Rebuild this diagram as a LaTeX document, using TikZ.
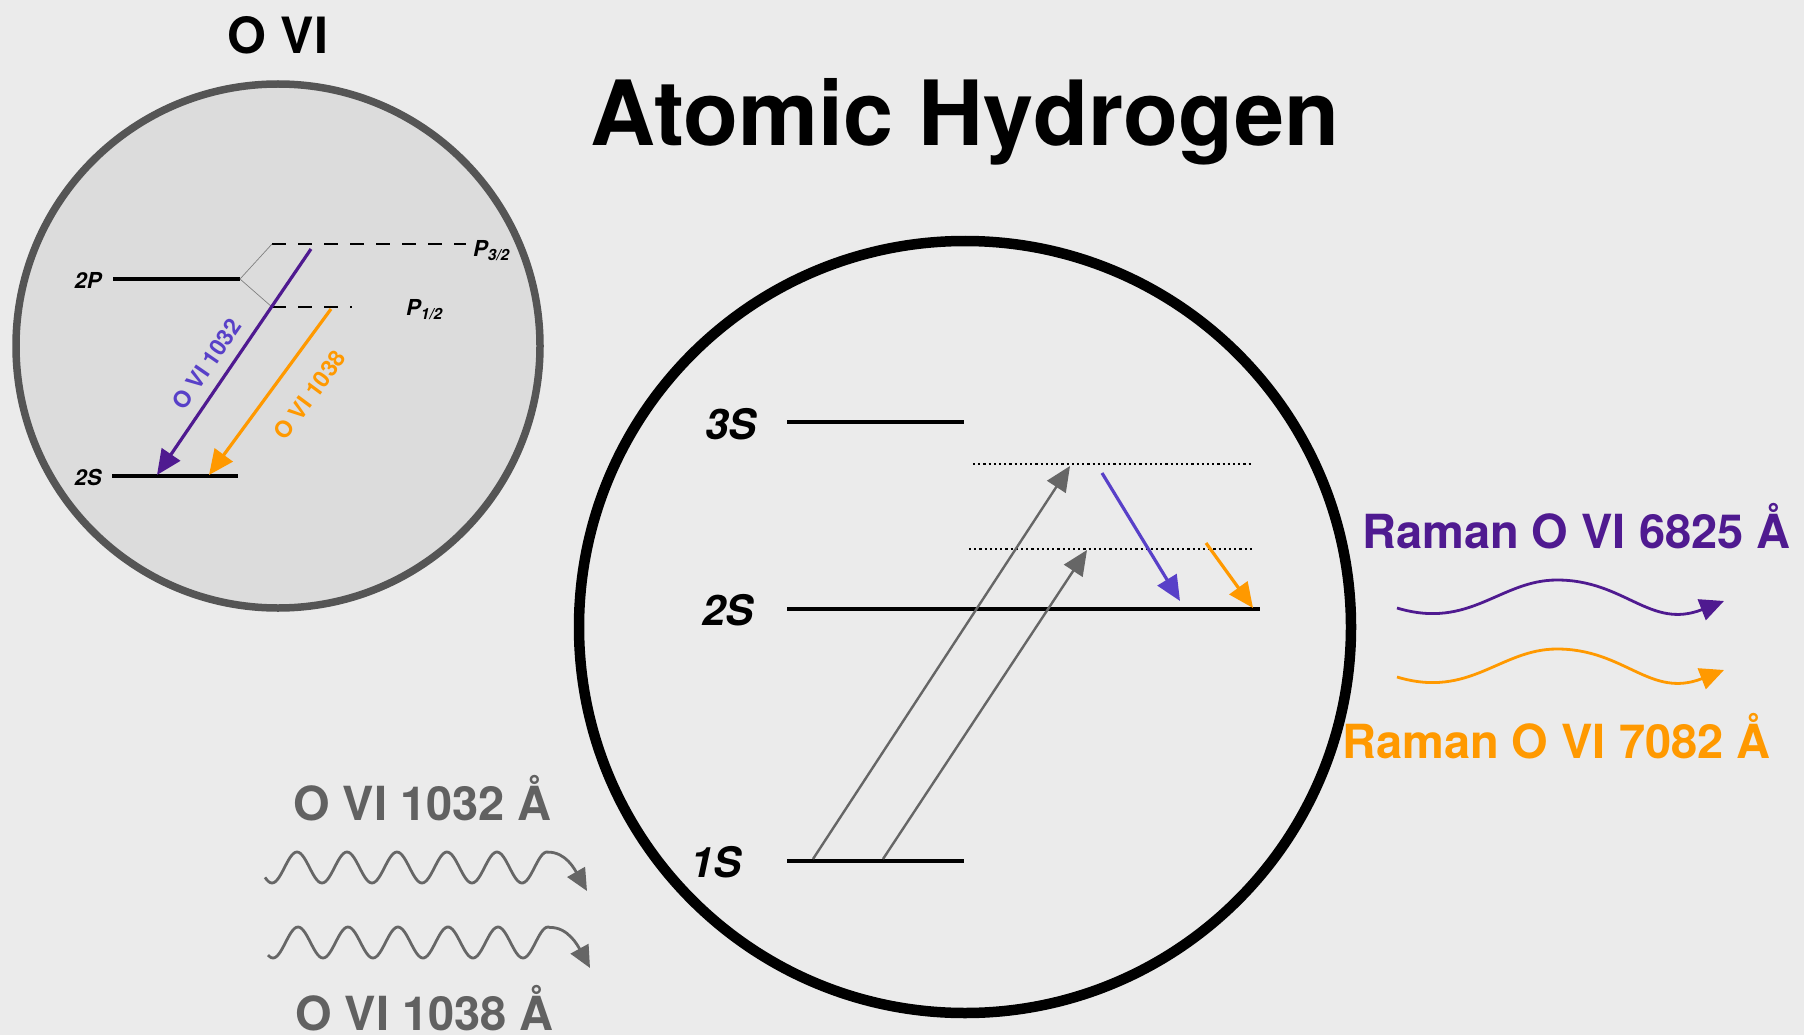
\documentclass[tikz,border=0pt]{standalone}
\usepackage{fontspec}
\setmainfont{TeX Gyre Heros}
\usetikzlibrary{arrows.meta}
\definecolor{bg}{HTML}{EBEBEB}
\definecolor{leftfill}{HTML}{DCDCDC}
\definecolor{leftdraw}{HTML}{555555}
\definecolor{pdark}{HTML}{4F1A90}
\definecolor{pblue}{HTML}{5840C8}
\definecolor{orng}{HTML}{FF9900}
\definecolor{gtext}{HTML}{616161}
\definecolor{garrow}{HTML}{666666}
\begin{document}
\begin{tikzpicture}[x=1pt,y=-1pt,
  lvl/.style={line width=4.6pt},
  lvlbl/.style={font=\bfseries\itshape\fontsize{42}{42}\selectfont, inner sep=0pt},
  smlbl/.style={font=\bfseries\itshape\fontsize{22}{22}\selectfont, inner sep=0pt},
  biglbl/.style={font=\bfseries\fontsize{47}{50}\selectfont, inner sep=0pt},
  rotlbl/.style={font=\bfseries\fontsize{23}{23}\selectfont, inner sep=0pt},
  tipbig/.style={-{Triangle[length=25pt,width=22pt]}},
  dashlvl/.style={line width=2.8pt, dash pattern=on 14pt off 12pt},
  dotlvl/.style={line width=2.2pt, dash pattern=on 2.2pt off 3pt},
  thin/.style={line width=0.7pt, draw=gray},
]
\useasboundingbox (0,0) rectangle (1804,1035);
\fill[bg] (0,0) rectangle (1804,1035);

% ---------- titles ----------
\node[font=\bfseries\fontsize{90}{96}\selectfont, inner sep=0pt, anchor=base] (title) at (965,146) {Atomic Hydrogen};
\node[font=\bfseries\fontsize{50}{54}\selectfont, inner sep=0pt, anchor=base] (ovi) at (278,54) {O VI};

% ---------- left circle (O VI) ----------
\node[circle, minimum size=524pt, fill=leftfill, draw=leftdraw, line width=7.5pt, inner sep=0pt] (lc) at (278,346) {};

\coordinate (p2a) at (113,279);
\coordinate (p2b) at (240,279);
\coordinate (s2a) at (112,476);
\coordinate (s2b) at (238,476);
\coordinate (p32a) at (272,244);
\coordinate (p32b) at (466,244);
\coordinate (p12a) at (272,307);
\coordinate (p12b) at (352,307);
\draw[lvl] (p2a) -- (p2b);
\draw[lvl] (s2a) -- (s2b);
\draw[dashlvl] (p32a) -- (p32b);
\draw[dashlvl] (p12a) -- (p12b);
\draw[thin] (p2b) -- (p32a);
\draw[thin] (p2b) -- (p12a);

\node[smlbl] (l2p) at (88,280) {2P};
\node[smlbl] (l2s) at (88,477) {2S};
\node[smlbl, anchor=west] (lp32) at (473,251) {P\textsubscript{3/2}};
\node[smlbl, anchor=west] (lp12) at (406,310) {P\textsubscript{1/2}};

\coordinate (a1s) at (311,249);
\coordinate (a1e) at (157,475);
\coordinate (a2s) at (331,309);
\coordinate (a2e) at (209,475);
\draw[pdark, line width=3.2pt, tipbig] (a1s) -- (a1e);
\draw[orng, line width=3.2pt, tipbig] (a2s) -- (a2e);
\node[rotlbl, text=pblue, rotate=55.5] (t1032) at (207,364) {O VI 1032};
\node[rotlbl, text=orng, rotate=53.5] (t1038) at (310,395) {O VI 1038};

% ---------- main circle ----------
\node[circle, minimum size=772pt, draw=black, line width=10.5pt, inner sep=0pt] (mc) at (965,627) {};

\coordinate (s3a) at (787,422);
\coordinate (s3b) at (964,422);
\coordinate (m2a) at (787,609);
\coordinate (m2b) at (1260,609);
\coordinate (s1a) at (787,861);
\coordinate (s1b) at (964,861);
\coordinate (d1a) at (973,464);
\coordinate (d1b) at (1253,464);
\coordinate (d2a) at (969,549);
\coordinate (d2b) at (1252,549);
\draw[lvl] (s3a) -- (s3b);
\draw[lvl] (m2a) -- (m2b);
\draw[lvl] (s1a) -- (s1b);
\draw[dotlvl] (d1a) -- (d1b);
\draw[dotlvl] (d2a) -- (d2b);

\node[lvlbl] (l3s) at (731,424) {3S};
\node[lvlbl] (lm2s) at (728,610) {2S};
\node[lvlbl] (l1s) at (716,862) {1S};

\coordinate (g1s) at (813,859);
\coordinate (g1e) at (1070,466);
\coordinate (g2s) at (883,859);
\coordinate (g2e) at (1087,550);
\draw[garrow, line width=2.4pt, tipbig] (g1s) -- (g1e);
\draw[garrow, line width=2.4pt, tipbig] (g2s) -- (g2e);

\coordinate (m1s) at (1102,473);
\coordinate (m1e) at (1180,601);
\coordinate (m2s) at (1206,543);
\coordinate (m2e) at (1253,608);
\draw[pblue, line width=3.2pt, tipbig] (m1s) -- (m1e);
\draw[orng, line width=3.2pt, tipbig] (m2s) -- (m2e);

% ---------- Raman (right) ----------
\node[biglbl, text=pdark, anchor=base west] (r6825) at (1362,548) {Raman O VI 6825 Å};
\node[biglbl, text=orng, anchor=base west] (r7082) at (1342,758) {Raman O VI 7082 Å};
\coordinate (rw1s) at (1397,608);
\coordinate (rw1m) at (1557,580);
\coordinate (rw1e) at (1724,601);
\coordinate (rw2s) at (1397,677);
\coordinate (rw2m) at (1557,649);
\coordinate (rw2e) at (1724,670);
\draw[pdark, line width=2.8pt, -{Triangle[length=24pt,width=22pt]}] (rw1s) .. controls (1470,630) and (1500,580) .. (rw1m) .. controls (1625,580) and (1650,630) .. (rw1e);
\draw[orng, line width=2.8pt, -{Triangle[length=24pt,width=22pt]}] (rw2s) .. controls (1470,699) and (1500,649) .. (rw2m) .. controls (1625,649) and (1650,699) .. (rw2e);

% ---------- O VI incoming (left bottom) ----------
\node[biglbl, text=gtext, anchor=base west] (i1032) at (293,820) {O VI 1032 Å};
\node[biglbl, text=gtext, anchor=base west] (i1038) at (295,1030) {O VI 1038 Å};
\coordinate (w1e) at (587,891);
\coordinate (w2e) at (590,968);
\draw[garrow, line width=2.8pt, -{Triangle[length=22pt,width=20pt]}]
  plot[domain=265:548, samples=160] (\x,{867.5-15.5*cos(7.2*(\x-297))})
  .. controls (566,852) and (575,870) .. (w1e);
\draw[garrow, line width=2.8pt, -{Triangle[length=22pt,width=20pt]}]
  plot[domain=268:550, samples=160] (\x,{942.5-15.5*cos(7.2*(\x-298))})
  .. controls (568,927) and (578,946) .. (w2e);
\end{tikzpicture}
\end{document}
